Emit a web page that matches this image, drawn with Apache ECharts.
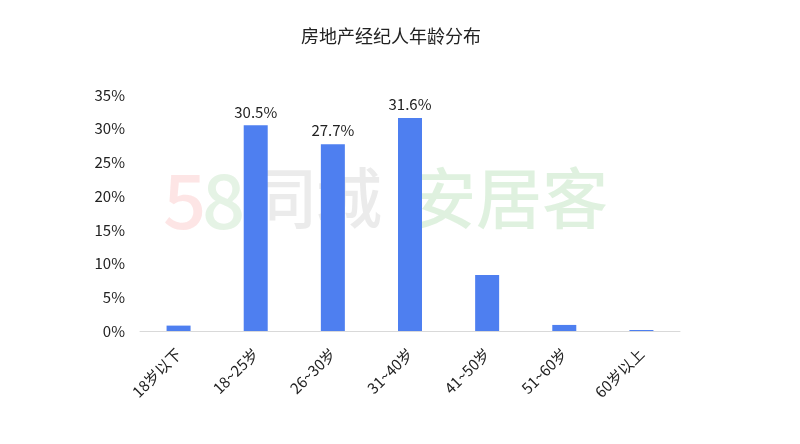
<!DOCTYPE html>
<html><head><meta charset="utf-8">
<script src="https://cdn.jsdelivr.net/npm/echarts@6/dist/echarts.min.js"></script>
<style>html,body{margin:0;padding:0;background:#fff}#c{width:800px;height:444px}</style>
</head><body><div id="c"></div>
<script>
const title = '房地产经纪人年龄分布';
const categories = ['18岁以下','18~25岁','26~30岁','31~40岁','41~50岁','51~60岁','60岁以上'];
const values = [0.8, 30.5, 27.7, 31.6, 8.3, 0.9, 0.15];
const labelled = [false, true, true, true, false, false, false];
const yTicks = [0, 5, 10, 15, 20, 25, 30, 35];

const chart = echarts.init(document.getElementById('c'), null, {renderer:'canvas'});
const font = '"Noto Sans CJK SC", "Noto Sans", sans-serif';
chart.setOption({
  animation:false,
  title:{text:title,left:296,top:22,textStyle:{fontFamily:font,fontSize:18,fontWeight:'normal',color:'#222'}},
  graphic:[
    {type:'text',left:163,top:162,z:0,style:{text:'5',font:'500 76px '+font,fill:'rgba(250,170,170,0.3)'}},
    {type:'text',left:202,top:162,z:0,style:{text:'8',font:'500 76px '+font,fill:'rgba(170,215,170,0.3)'}},
    {type:'text',left:250,top:165,z:0,style:{text:'同城',font:'500 66px '+font,fill:'rgba(190,190,190,0.3)'}},
    {type:'text',left:410,top:165,z:0,style:{text:'安居客',font:'500 66px '+font,fill:'rgba(150,210,150,0.3)'}}
  ],
  grid:{left:140,right:120,top:95,bottom:113,containLabel:false},
  xAxis:{type:'category',data:categories,
    axisLine:{lineStyle:{color:'#d9d9d9'}},axisTick:{show:false},
    axisLabel:{rotate:45,color:'#222',fontSize:15,fontFamily:font,margin:20}},
  yAxis:{type:'value',min:0,max:35,interval:5,
    axisLine:{show:false},axisTick:{show:false},splitLine:{show:false},
    axisLabel:{color:'#222',fontSize:15,fontFamily:font,margin:15,
      formatter:v=>yTicks.includes(v)?v+'%':''}},
  series:[{type:'bar',barWidth:24,
    data:values.map((v,i)=>({value:v,label:{show:labelled[i]}})),
    itemStyle:{color:'#4e7ff0'},
    label:{position:'top',color:'#222',fontSize:15,fontFamily:font,formatter:p=>p.value.toFixed(1)+'%',distance:6}}]
});
</script></body></html>
